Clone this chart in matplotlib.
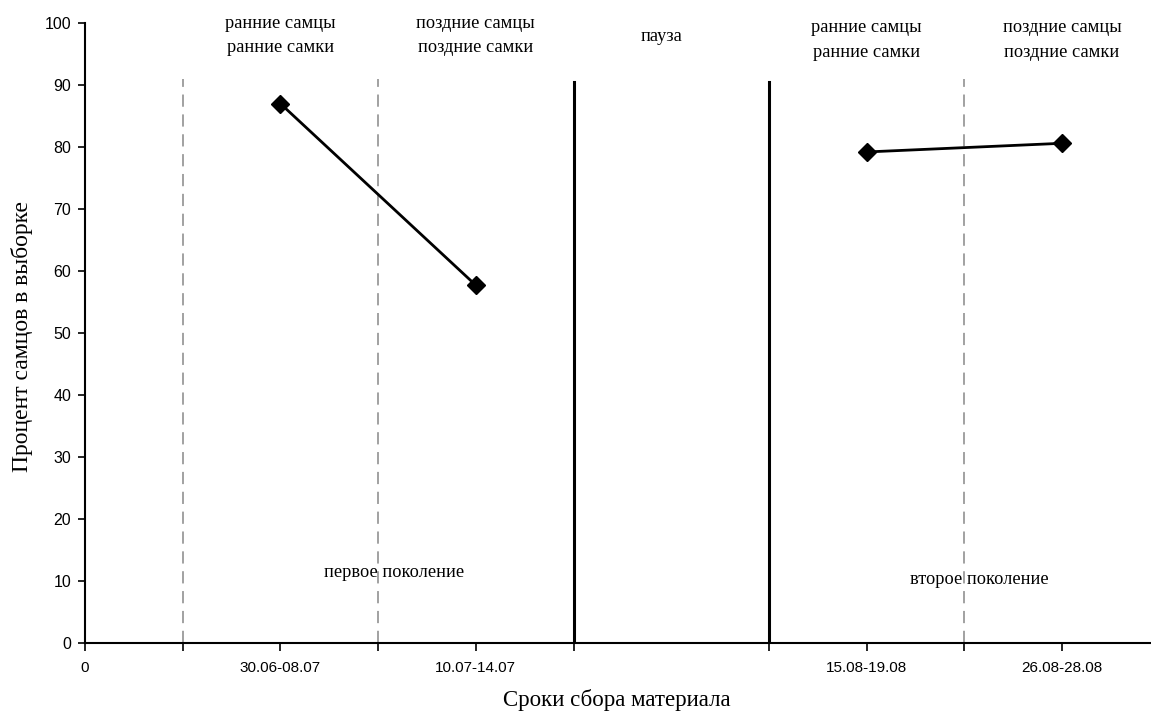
import matplotlib
matplotlib.use("Agg")
import matplotlib.pyplot as plt

# data
x_pos = [1, 2, 4, 5]
percent_males = [87.0, 57.7, 79.2, 80.6]
segments = [(0, 2), (2, 4)]  # point index ranges joined by lines
tick_positions = [0, 0.5, 1, 1.5, 2, 2.5, 3.5, 4, 4.5, 5]
tick_labels = ["0", "", "30.06-08.07", "", "10.07-14.07", "", "", "15.08-19.08", "", "26.08-28.08"]
dashed_x = [0.5, 1.5, 4.5]
solid_x = [2.5, 3.5]
top_labels = [(1, "ранние самцы\nранние самки"), (2, "поздние самцы\nпоздние самки"),
              (4, "ранние самцы\nранние самки"), (5, "поздние самцы\nпоздние самки")]
yticks = list(range(0, 101, 10))

W, H = 1151, 713
fig = plt.figure(figsize=(W / 100, H / 100), dpi=100)
ax = fig.add_axes([85 / W, (H - 643) / H, (W - 85) / W, 620 / H])
ax.set_xlim(0, 5.455)
ax.set_ylim(0, 100)

for sp in ["top", "right"]:
    ax.spines[sp].set_visible(False)
for sp in ["left", "bottom"]:
    ax.spines[sp].set_linewidth(1.5)
ax.spines["left"].set_bounds(0, 100)

sans = "Liberation Sans"
serif = "Liberation Serif"

ax.set_yticks(yticks)
ax.set_yticklabels([str(v) for v in yticks], fontfamily=sans, fontsize=11.5)
ax.set_xticks(tick_positions)
ax.set_xticklabels(tick_labels, fontfamily=sans, fontsize=11)
ax.tick_params(axis="y", direction="out", length=5, width=1.2, pad=5)
ax.tick_params(axis="x", direction="out", length=6, width=1.2, pad=7)

# vertical lines
for xv in dashed_x:
    ax.plot([xv, xv], [0, 91], color="#888888", lw=1.1, ls=(0, (8, 5)), zorder=1)
for xv in solid_x:
    ax.plot([xv, xv], [0, 90.5], color="black", lw=2.2, zorder=2)

# data lines
for a, b in segments:
    ax.plot(x_pos[a:b], percent_males[a:b], color="black", lw=2, marker="D",
            markersize=9, markerfacecolor="black", markeredgecolor="black", zorder=3,
            clip_on=False)

# annotations
for xv, txt in top_labels:
    yv = 98.0 if xv < 3 else 97.3
    ax.text(xv, yv, txt, ha="center", va="center", fontfamily=serif, fontsize=13.2,
            linespacing=1.6)
ax.text(2.95, 97.8, "пауза", ha="center", va="center", fontfamily=serif, fontsize=13.2)
ax.text(1.58, 11.3, "первое поколение", ha="center", va="center", fontfamily=serif, fontsize=13.2)
ax.text(4.575, 10.3, "второе поколение", ha="center", va="center", fontfamily=serif, fontsize=13.2)

fig.text(617 / W, 1 - 700 / H, "Сроки сбора материала", ha="center", va="center",
         fontfamily=serif, fontsize=16.5)
fig.text(22 / W, 1 - 337 / H, "Процент самцов в выборке", ha="center", va="center",
         rotation=90, fontfamily=serif, fontsize=17)

fig.savefig("out.png", dpi=100)
